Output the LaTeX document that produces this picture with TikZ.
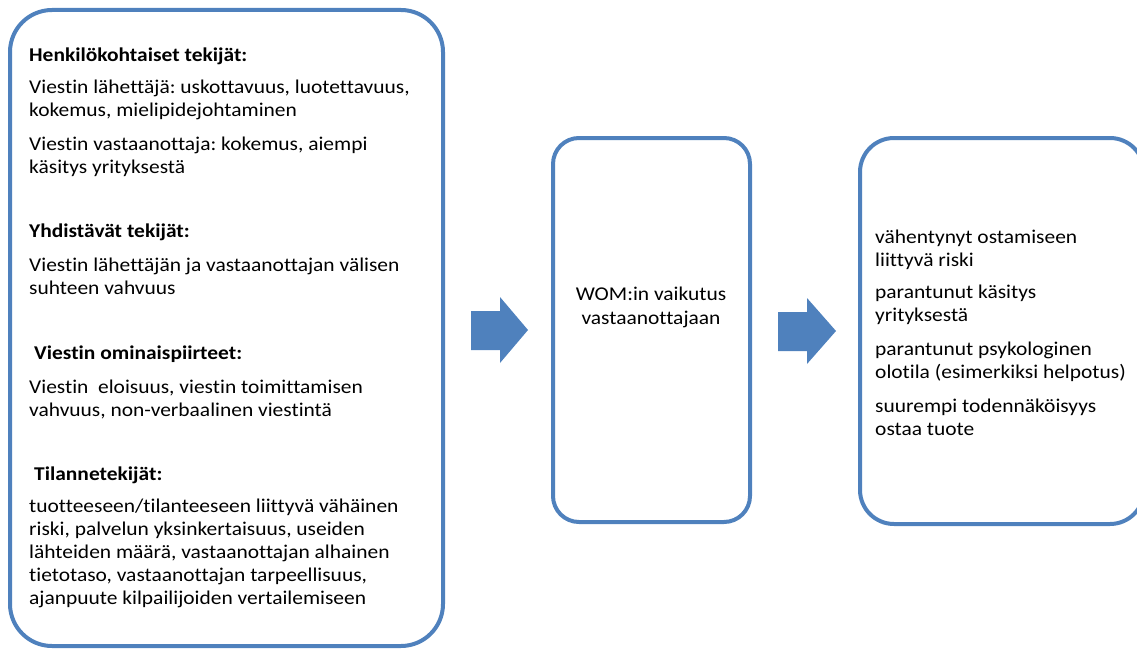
\documentclass[tikz,border=0pt]{standalone}
\usepackage{fontspec}
\setmainfont{Carlito}[FakeStretch=1.1, Ligatures=NoCommon]
\definecolor{obl}{HTML}{4F81BD}
\frenchspacing
\begin{document}
\begin{tikzpicture}[x=1pt,y=-1pt,
  panel/.style={draw=obl, line width=4pt, fill=white, inner sep=0pt},
  para/.style={anchor=base west, inner sep=0pt, font=\fontsize{19.5}{23}\selectfont},
  ctext/.style={anchor=base, inner sep=0pt, align=center, font=\fontsize{19.5}{23.5}\selectfont},
  blockarrow/.style={fill=obl, draw=none}]
\useasboundingbox (0,0) rectangle (1137,650);
% panels
\node[panel, rounded corners=42pt, minimum width=433pt, minimum height=636pt] (L) at (226.5,328) {};
\node[panel, rounded corners=26pt, minimum width=197pt, minimum height=384pt] (M) at (651.5,330) {};
\node[panel, rounded corners=34pt, minimum width=284pt, minimum height=386pt] (R) at (1002,331) {};
% left text
\node[para] (h1) at (29,62) {\textbf{Henkilökohtaiset tekijät:}};
\node[para] (p1) at (29,94) {\begin{tabular}[t]{@{}l@{}}Viestin lähettäjä: uskottavuus, luotettavuus,\\ kokemus, mielipidejohtaminen\end{tabular}};
\node[para] (p2) at (29,150) {\begin{tabular}[t]{@{}l@{}}Viestin vastaanottaja: kokemus, aiempi\\ käsitys yrityksestä\end{tabular}};
\node[para] (h2) at (29,237) {\textbf{Yhdistävät tekijät:}};
\node[para] (p3) at (29,271) {\begin{tabular}[t]{@{}l@{}}Viestin lähettäjän ja vastaanottajan välisen\\ suhteen vahvuus\end{tabular}};
\node[para] (h3) at (34,359) {\textbf{Viestin ominaispiirteet:}};
\node[para] (p4) at (29,393) {\begin{tabular}[t]{@{}l@{}}Viestin\ \ eloisuus, viestin toimittamisen\\ vahvuus, non-verbaalinen viestintä\end{tabular}};
\node[para] (h4) at (34,480) {\textbf{Tilannetekijät:}};
\node[para] (p5) at (29,512) {\begin{tabular}[t]{@{}l@{}}tuotteeseen/tilanteeseen liittyvä vähäinen\\ riski, palvelun yksinkertaisuus, useiden\\ lähteiden määrä, vastaanottajan alhainen\\ tietotaso, vastaanottajan tarpeellisuus,\\ ajanpuute kilpailijoiden vertailemiseen\end{tabular}};
% middle text
\node[ctext] (mt) at (651,324) {WOM:in vaikutus\\ vastaanottajaan};
% right text
\node[para] (r1) at (875,243) {\begin{tabular}[t]{@{}l@{}}vähentynyt ostamiseen\\ liittyvä riski\end{tabular}};
\node[para] (r2) at (875,298) {\begin{tabular}[t]{@{}l@{}}parantunut käsitys\\ yrityksestä\end{tabular}};
\node[para] (r3) at (875,355) {\begin{tabular}[t]{@{}l@{}}parantunut psykologinen\\ olotila (esimerkiksi helpotus)\end{tabular}};
\node[para] (r4) at (875,412) {\begin{tabular}[t]{@{}l@{}}suurempi todennäköisyys\\ ostaa tuote\end{tabular}};
% block arrows
\fill[blockarrow] (471,311) -- (500,311) -- (500,297) -- (528,330) -- (500,363) -- (500,350) -- (471,350) -- cycle;
\fill[blockarrow] (778,312) -- (807,312) -- (807,298) -- (836,331) -- (807,364) -- (807,351) -- (778,351) -- cycle;
\end{tikzpicture}
\end{document}
